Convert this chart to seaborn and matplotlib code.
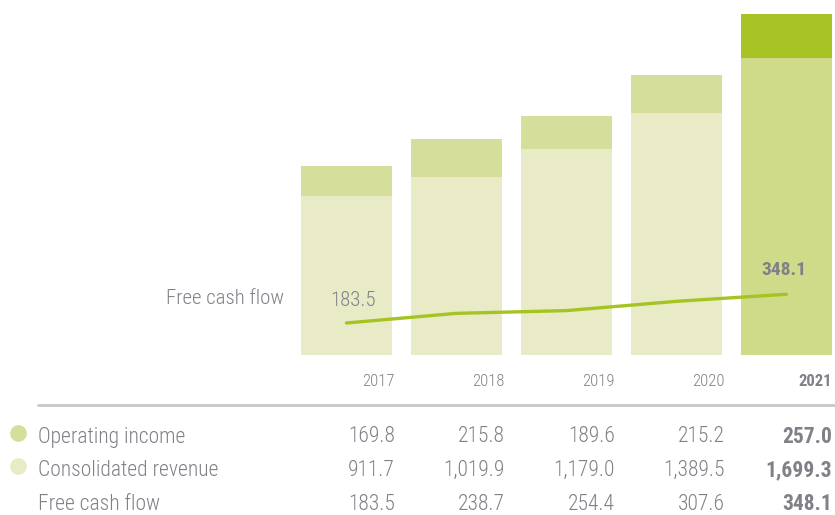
import matplotlib
matplotlib.use("Agg")
import matplotlib.pyplot as plt
import matplotlib.transforms as mtrans
import seaborn as sns
import pandas as pd

years = ["2017", "2018", "2019", "2020", "2021"]
operating_income = [169.8, 215.8, 189.6, 215.2, 257.0]
revenue = [911.7, 1019.9, 1179.0, 1389.5, 1699.3]
free_cash_flow = [183.5, 238.7, 254.4, 307.6, 348.1]
op_labels = ["169.8", "215.8", "189.6", "215.2", "257.0"]
rev_labels = ["911.7", "1,019.9", "1,179.0", "1,389.5", "1,699.3"]
fcf_labels = ["183.5", "238.7", "254.4", "307.6", "348.1"]

sns.set_theme(style="white")
plt.rcParams["font.family"] = ["Roboto Condensed", "DejaVu Sans"]

TXT = "#808188"
LINE = "#a5c422"
rev_pal = {y: ("#cfdb88" if y == "2021" else "#e8ebc5") for y in years}
op_pal = {y: ("#a8c326" if y == "2021" else "#d5df9b") for y in years}

df = pd.DataFrame({"year": years, "op": operating_income, "rev": revenue, "fcf": free_cash_flow})
df["total"] = df["op"] + df["rev"]
df["pos"] = range(len(years))

W, H = 835, 515
SCALE = 0.1745  # px per unit
fig = plt.figure(figsize=(W / 100, H / 100), dpi=100)
left = 291.5
ax = fig.add_axes([left / W, 1 - 355 / H, (W - left) / W, 355 / H])

sns.barplot(data=df, x="year", y="total", hue="year", palette=op_pal, order=years,
            width=0.83, ax=ax, legend=False, saturation=1, linewidth=0)
sns.barplot(data=df, x="year", y="rev", hue="year", palette=rev_pal, order=years,
            width=0.83, ax=ax, legend=False, saturation=1, linewidth=0)
sns.lineplot(data=df, x="pos", y="fcf", color=LINE, lw=2.4, ax=ax)

ax.set_xlim(-0.5, -0.5 + (W - left) / 110)
ax.set_ylim(0, 355 / SCALE)
ax.axis("off")

def dy(py):
    return (355 - py) / SCALE

ax.text(0.06, dy(300), fcf_labels[0], ha="center", va="center",
        color=TXT, fontsize=15, fontweight="light")
ax.text(3.98, dy(270), fcf_labels[-1], ha="center", va="center",
        color=TXT, fontsize=14, fontweight="bold")
ax.text(-0.565, dy(299), "Free cash flow", ha="right", va="center",
        color=TXT, fontsize=15, fontweight="light")

tr = mtrans.blended_transform_factory(ax.transData, fig.transFigure)
def fy(py):
    return 1 - py / H

for i, y in enumerate(years):
    xr = min(i + 0.44, 4.415)
    bold = "bold" if y == "2021" else "light"
    ax.text(xr, fy(381), y, transform=tr, ha="right", va="center", color=TXT,
            fontsize=12, fontweight=bold, clip_on=False)
    for py, lab in zip([437, 470, 504], [op_labels, rev_labels, fcf_labels]):
        ax.text(xr, fy(py), lab[i], transform=tr, ha="right", va="center", color=TXT,
                fontsize=15.5, fontweight=bold, clip_on=False)

fig.add_artist(plt.Line2D([38 / W, 1], [fy(405)] * 2, color="#c6c7c9", lw=2,
                          transform=fig.transFigure))
for py, lab, c in [(437, "Operating income", "#d5df9b"),
                   (470, "Consolidated revenue", "#e8ebc5"),
                   (504, "Free cash flow", None)]:
    fig.text(38 / W, fy(py), lab, ha="left", va="center", color=TXT, fontsize=15.5,
             fontweight="light")
    if c:
        fig.add_artist(plt.Line2D([18 / W], [fy(py - 4)], marker="o", markersize=11,
                                  color=c, transform=fig.transFigure, lw=0))

fig.savefig("out.png", dpi=100)
